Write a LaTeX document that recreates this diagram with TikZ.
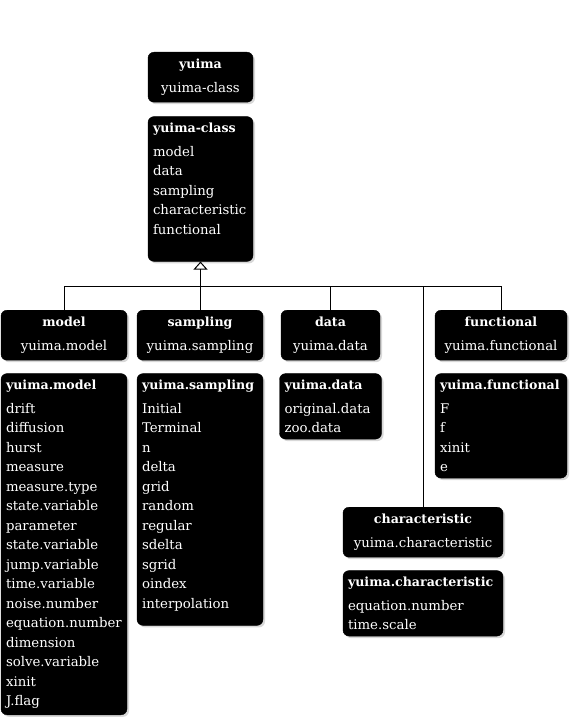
\documentclass[tikz,border=0pt]{standalone}
\usepackage{fontspec}
\setmainfont{DejaVu Serif}
\usetikzlibrary{positioning,arrows.meta,shadows}
\newcommand{\boxtitle}[1]{{\fontsize{12.6}{19.5}\selectfont\bfseries #1}}

\begin{document}
\begin{tikzpicture}[x=1pt, y=-1pt, node distance=13pt,
  every node/.style={font=\fontsize{13.3}{19.5}\selectfont},
  hdrbox/.style={draw=black, fill=black, text=white, rounded corners=6pt, minimum height=50pt, align=center, inner xsep=5pt, inner ysep=6pt, drop shadow={shadow xshift=2pt, shadow yshift=-2pt, fill=gray!60}},
  listbox/.style={draw=black, fill=black, text=white, rounded corners=6pt, align=left, inner xsep=5pt, inner ysep=6pt, drop shadow={shadow xshift=2pt, shadow yshift=-2pt, fill=gray!60}},
  link/.style={line width=1pt}]
\useasboundingbox (0,0) rectangle (571,719);
\node[hdrbox, minimum width=105pt, anchor=north] (yuima) at (200.5,52) {\boxtitle{yuima}\\[4.7pt]yuima-class};
\node[listbox, text width=95pt, below=14pt of yuima] (yuimaclass) {\boxtitle{yuima-class}\\[4.7pt]model\\data\\sampling\\characteristic\\functional\rule[-21pt]{0pt}{21pt}};
\node[hdrbox, minimum width=126pt, anchor=north] (modelhdr) at (64,310) {\boxtitle{model}\\[4.7pt]yuima.model};
\node[hdrbox, minimum width=126pt, anchor=north] (samplinghdr) at (200,310) {\boxtitle{sampling}\\[4.7pt]yuima.sampling};
\node[hdrbox, minimum width=99pt, anchor=north] (datahdr) at (330.5,310) {\boxtitle{data}\\[4.7pt]yuima.data};
\node[hdrbox, minimum width=132pt, anchor=north] (functionalhdr) at (501,310) {\boxtitle{functional}\\[4.7pt]yuima.functional};
\node[hdrbox, minimum width=160pt, anchor=north] (charhdr) at (423,507) {\boxtitle{characteristic}\\[4.7pt]yuima.characteristic};
\node[listbox, text width=116pt, below=of modelhdr] (modellist) {\boxtitle{yuima.model}\\[4.7pt]drift\\diffusion\\hurst\\measure\\measure.type\\state.variable\\parameter\\state.variable\\jump.variable\\time.variable\\noise.number\\equation.number\\dimension\\solve.variable\\xinit\\J.flag};
\node[listbox, text width=116pt, below=of samplinghdr] (samplinglist) {\boxtitle{yuima.sampling}\\[4.7pt]Initial\\Terminal\\n\\delta\\grid\\random\\regular\\sdelta\\sgrid\\oindex\\interpolation\rule[-11pt]{0pt}{11pt}};
\node[listbox, text width=92pt, below=of datahdr] (datalist) {\boxtitle{yuima.data}\\[4.7pt]original.data\\zoo.data};
\node[listbox, text width=122pt, below=of functionalhdr] (functionallist) {\boxtitle{yuima.functional}\\[4.7pt]F\\f\\xinit\\e};
\node[listbox, text width=150pt, below=of charhdr] (charlist) {\boxtitle{yuima.characteristic}\\[4.7pt]equation.number\\time.scale};
% inheritance bus
\coordinate (bus) at (yuimaclass.south |- 0,286);
\draw[link] (modelhdr.north) |- (bus);
\draw[link] (samplinghdr.north) |- (bus);
\draw[link] (datahdr.north) |- (bus);
\draw[link] (charhdr.north) |- (bus);
\draw[link] (functionalhdr.north) |- (bus);
\draw[link, -{Triangle[open, length=8pt, width=14pt]}] (bus) -- (yuimaclass.south);
\end{tikzpicture}
\end{document}
